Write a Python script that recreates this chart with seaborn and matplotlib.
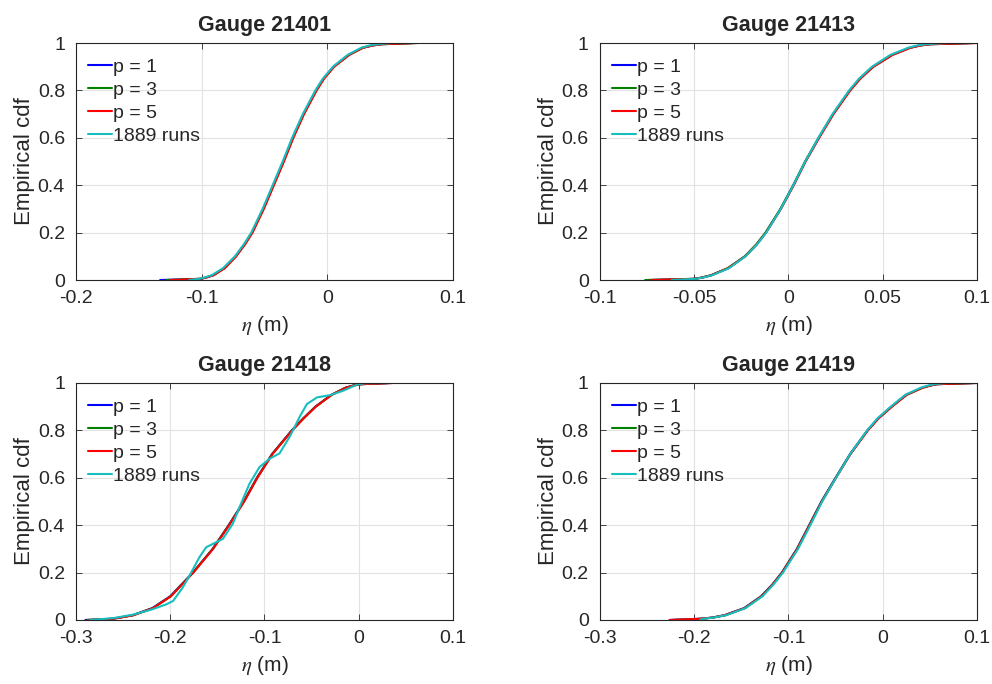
import matplotlib
matplotlib.use("Agg")
import matplotlib.pyplot as plt
import seaborn as sns

# ---------------- data ----------------
cdf_levels = [0, 0.005, 0.01, 0.02, 0.05, 0.1, 0.15, 0.2, 0.3, 0.4, 0.5,
              0.6, 0.7, 0.8, 0.85, 0.9, 0.95, 0.98, 0.99, 0.995, 1]

series_labels = ["p = 1", "p = 3", "p = 5", "1889 runs"]
gauge_names = ["Gauge 21401", "Gauge 21413", "Gauge 21418", "Gauge 21419"]

# Gauge 21401 (eta in m at each cdf level)
g21401_p1 = [-0.133, -0.101, -0.097, -0.091, -0.082, -0.073, -0.066, -0.060, -0.051, -0.043, -0.035,
             -0.0275, -0.019, -0.009, -0.003, 0.005, 0.017, 0.028, 0.036, 0.043, 0.068]
g21401_p3 = [-0.128, -0.1015, -0.097, -0.091, -0.082, -0.0728, -0.0658, -0.0598, -0.0508, -0.0428, -0.0348,
             -0.0273, -0.0188, -0.0088, -0.0028, 0.0052, 0.0173, 0.0283, 0.0362, 0.0433, 0.072]
g21401_p5 = [-0.125, -0.101, -0.0965, -0.0905, -0.0815, -0.0725, -0.0655, -0.0595, -0.0505, -0.0425, -0.0345,
             -0.027, -0.0185, -0.0085, -0.0025, 0.0055, 0.0175, 0.0285, 0.0365, 0.0435, 0.070]
g21401_runs = [-0.110, -0.102, -0.098, -0.092, -0.083, -0.0735, -0.0665, -0.0605, -0.0515, -0.0435, -0.0355,
               -0.028, -0.0195, -0.0095, -0.0035, 0.0045, 0.0162, 0.027, 0.034, 0.040, 0.052]

# Gauge 21413
g21413_p1 = [-0.074, -0.050, -0.046, -0.041, -0.032, -0.023, -0.0169, -0.012, -0.0041, 0.0027, 0.009,
             0.0161, 0.0237, 0.0326, 0.038, 0.0449, 0.055, 0.0645, 0.070, 0.075, 0.097]
g21413_p3 = [-0.076, -0.0505, -0.0462, -0.0412, -0.0322, -0.0232, -0.0171, -0.0122, -0.0043, 0.0025, 0.0088,
             0.016, 0.0236, 0.0325, 0.0379, 0.0448, 0.0549, 0.0644, 0.0699, 0.0752, 0.099]
g21413_p5 = [-0.0727, -0.0502, -0.046, -0.041, -0.032, -0.0229, -0.0168, -0.0119, -0.004, 0.0028, 0.0091,
             0.0163, 0.0239, 0.0328, 0.0382, 0.0451, 0.0553, 0.0648, 0.0703, 0.0755, 0.0995]
g21413_runs = [-0.062, -0.0495, -0.0455, -0.0405, -0.0315, -0.0228, -0.0167, -0.0118, -0.0041, 0.0026, 0.0089,
               0.0159, 0.0234, 0.0322, 0.0375, 0.0443, 0.0541, 0.0635, 0.0685, 0.0728, 0.084]

# Gauge 21418
g21418_p1 = [-0.290, -0.262, -0.254, -0.240, -0.219, -0.200, -0.188, -0.176, -0.155, -0.138, -0.122,
             -0.108, -0.092, -0.071, -0.059, -0.046, -0.029, -0.014, -0.005, 0.003, 0.035]
g21418_p3 = [-0.288, -0.2615, -0.2535, -0.2395, -0.2185, -0.1995, -0.1877, -0.1758, -0.1548, -0.1378, -0.1218,
             -0.1078, -0.0918, -0.0708, -0.0588, -0.0458, -0.0288, -0.0138, -0.0048, 0.0032, 0.033]
g21418_p5 = [-0.286, -0.261, -0.253, -0.239, -0.2182, -0.1992, -0.1874, -0.1755, -0.1545, -0.1375, -0.1215,
             -0.1075, -0.0915, -0.0705, -0.0585, -0.0455, -0.0285, -0.0135, -0.0045, 0.0035, 0.037]
g21418_runs_eta = [-0.285, -0.260, -0.240, -0.225, -0.2184, -0.2042, -0.197, -0.1866, -0.1795, -0.169,
                   -0.1618, -0.1512, -0.1442, -0.1336, -0.1265, -0.1159, -0.1053, -0.0947, -0.084, -0.0727,
                   -0.062, -0.055, -0.0443, -0.030, -0.016, -0.0018, 0.007, 0.020]
g21418_runs_cdf = [0.0, 0.008, 0.022, 0.038, 0.046, 0.066, 0.080, 0.138, 0.187, 0.265,
                   0.307, 0.328, 0.342, 0.406, 0.476, 0.575, 0.645, 0.680, 0.703, 0.777,
                   0.862, 0.911, 0.939, 0.949, 0.968, 0.993, 0.999, 1.0]

# Gauge 21419
g21419_p1 = [-0.226, -0.194, -0.181, -0.168, -0.147, -0.129, -0.117, -0.107, -0.091, -0.078, -0.065,
             -0.050, -0.0346, -0.0162, -0.005, 0.0093, 0.025, 0.042, 0.051, 0.058, 0.098]
g21419_p3 = [-0.223, -0.1935, -0.1805, -0.1675, -0.1466, -0.1287, -0.1168, -0.1068, -0.0908, -0.0778, -0.0648,
             -0.0498, -0.0344, -0.016, -0.0048, 0.0095, 0.0252, 0.0422, 0.0512, 0.0582, 0.0995]
g21419_p5 = [-0.226, -0.1932, -0.1802, -0.1672, -0.1463, -0.1284, -0.1165, -0.1065, -0.0905, -0.0775, -0.0645,
             -0.0495, -0.0341, -0.0157, -0.0045, 0.0098, 0.0255, 0.0425, 0.0515, 0.0585, 0.100]
g21419_runs = [-0.194, -0.1905, -0.1795, -0.166, -0.1455, -0.1275, -0.1158, -0.1058, -0.0898, -0.0768, -0.0642,
               -0.0495, -0.0345, -0.0165, -0.0056, 0.0085, 0.0240, 0.0405, 0.0490, 0.0550, 0.068]

x_ticks = [[-0.2, -0.1, 0, 0.1], [-0.1, -0.05, 0, 0.05, 0.1],
           [-0.3, -0.2, -0.1, 0, 0.1], [-0.3, -0.2, -0.1, 0, 0.1]]
x_tick_labels = [["-0.2", "-0.1", "0", "0.1"], ["-0.1", "-0.05", "0", "0.05", "0.1"],
                 ["-0.3", "-0.2", "-0.1", "0", "0.1"], ["-0.3", "-0.2", "-0.1", "0", "0.1"]]
y_ticks = [0, 0.2, 0.4, 0.6, 0.8, 1]
y_tick_labels = ["0", "0.2", "0.4", "0.6", "0.8", "1"]

colors = ["#0000ff", "#008000", "#ff0000", "#17bebe"]

# ---------------- style ----------------
sns.set_theme(style="white")
plt.rcParams["font.family"] = ["Liberation Sans", "DejaVu Sans"]
plt.rcParams["mathtext.fontset"] = "stix"
plt.rcParams["axes.unicode_minus"] = False

fig = plt.figure(figsize=(9.92, 6.84), dpi=100)
positions = [[0.0766, 0.5906, 0.3800, 0.3465], [0.6048, 0.5906, 0.3800, 0.3465],
             [0.0766, 0.0936, 0.3800, 0.3465], [0.6048, 0.0936, 0.3800, 0.3465]]

panel_data = [
    [(g21401_p1, cdf_levels), (g21401_p3, cdf_levels), (g21401_p5, cdf_levels), (g21401_runs, cdf_levels)],
    [(g21413_p1, cdf_levels), (g21413_p3, cdf_levels), (g21413_p5, cdf_levels), (g21413_runs, cdf_levels)],
    [(g21418_p1, cdf_levels), (g21418_p3, cdf_levels), (g21418_p5, cdf_levels), (g21418_runs_eta, g21418_runs_cdf)],
    [(g21419_p1, cdf_levels), (g21419_p3, cdf_levels), (g21419_p5, cdf_levels), (g21419_runs, cdf_levels)],
]

for i in range(4):
    ax = fig.add_axes(positions[i])
    for (xs, ys), lab, col in zip(panel_data[i], series_labels, colors):
        sns.lineplot(x=xs, y=ys, ax=ax, color=col, linewidth=1.5, sort=False,
                     estimator=None, label=lab)
    ax.set_xlim(x_ticks[i][0], x_ticks[i][-1])
    ax.set_ylim(0, 1)
    ax.set_xticks(x_ticks[i])
    ax.set_xticklabels(x_tick_labels[i])
    ax.set_yticks(y_ticks)
    ax.set_yticklabels(y_tick_labels)
    ax.grid(True, color="#e2e2e2", linewidth=0.8)
    ax.set_axisbelow(True)
    for sp in ax.spines.values():
        sp.set_visible(True)
        sp.set_color("#262626")
        sp.set_linewidth(0.8)
    ax.tick_params(direction="in", top=True, right=True, bottom=True, left=True,
                   length=4, width=0.6, color="#262626", labelcolor="#262626",
                   labelsize=14)
    ax.tick_params(axis="y", pad=8)
    ax.tick_params(axis="x", pad=7)
    ax.set_title(gauge_names[i], fontsize=15.5, fontweight="bold", pad=8.5)
    ax.set_xlabel(r"$\eta$ (m)", fontsize=15, labelpad=5, color="#262626")
    ax.set_ylabel("Empirical cdf", fontsize=16, labelpad=2, color="#262626")
    ax.legend(loc="upper left", bbox_to_anchor=(-0.01, 1.0), frameon=False, fontsize=14,
              handlelength=1.25, handletextpad=0.05, labelspacing=0.27,
              borderaxespad=0.3, borderpad=0.5)

fig.savefig("out.png", dpi=100)
